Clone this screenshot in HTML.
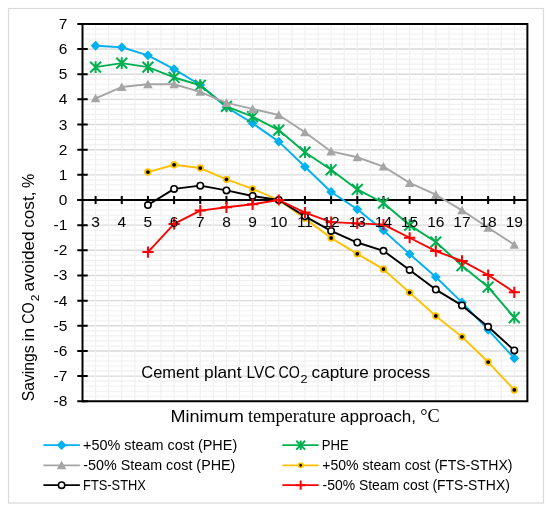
<!DOCTYPE html>
<html><head><meta charset="utf-8"><style>
html,body{margin:0;padding:0;background:#fff;}
body{width:550px;height:510px;overflow:hidden;}
svg{display:block;will-change:transform;}
text{font-family:"Liberation Sans",sans-serif;fill:#000;}
.tl text{font-size:15.5px;}
.tt{font-size:16.5px;}
.lg{font-size:14px;}
.mn{stroke:#F0F0F0;stroke-width:1.1;}
.mj{stroke:#D9D9D9;stroke-width:1.4;}
.vg{stroke:#EFEFEF;stroke-width:1.15;}
</style></head><body>
<svg width="550" height="510" viewBox="0 0 550 510">
<rect x="0" y="0" width="550" height="510" fill="#fff"/>
<rect x="8.5" y="8.5" width="535" height="494.5" fill="#fff" stroke="#D9D9D9" stroke-width="1.2"/>
<g><line x1="82.5" y1="396.25" x2="527.39" y2="396.25" class="mn"/><line x1="82.5" y1="391.22" x2="527.39" y2="391.22" class="mn"/><line x1="82.5" y1="386.18" x2="527.39" y2="386.18" class="mn"/><line x1="82.5" y1="381.15" x2="527.39" y2="381.15" class="mn"/><line x1="82.5" y1="371.09" x2="527.39" y2="371.09" class="mn"/><line x1="82.5" y1="366.06" x2="527.39" y2="366.06" class="mn"/><line x1="82.5" y1="361.02" x2="527.39" y2="361.02" class="mn"/><line x1="82.5" y1="355.99" x2="527.39" y2="355.99" class="mn"/><line x1="82.5" y1="345.93" x2="527.39" y2="345.93" class="mn"/><line x1="82.5" y1="340.9" x2="527.39" y2="340.9" class="mn"/><line x1="82.5" y1="335.86" x2="527.39" y2="335.86" class="mn"/><line x1="82.5" y1="330.83" x2="527.39" y2="330.83" class="mn"/><line x1="82.5" y1="320.77" x2="527.39" y2="320.77" class="mn"/><line x1="82.5" y1="315.74" x2="527.39" y2="315.74" class="mn"/><line x1="82.5" y1="310.7" x2="527.39" y2="310.7" class="mn"/><line x1="82.5" y1="305.67" x2="527.39" y2="305.67" class="mn"/><line x1="82.5" y1="295.61" x2="527.39" y2="295.61" class="mn"/><line x1="82.5" y1="290.58" x2="527.39" y2="290.58" class="mn"/><line x1="82.5" y1="285.54" x2="527.39" y2="285.54" class="mn"/><line x1="82.5" y1="280.51" x2="527.39" y2="280.51" class="mn"/><line x1="82.5" y1="270.45" x2="527.39" y2="270.45" class="mn"/><line x1="82.5" y1="265.42" x2="527.39" y2="265.42" class="mn"/><line x1="82.5" y1="260.38" x2="527.39" y2="260.38" class="mn"/><line x1="82.5" y1="255.35" x2="527.39" y2="255.35" class="mn"/><line x1="82.5" y1="245.29" x2="527.39" y2="245.29" class="mn"/><line x1="82.5" y1="240.26" x2="527.39" y2="240.26" class="mn"/><line x1="82.5" y1="235.22" x2="527.39" y2="235.22" class="mn"/><line x1="82.5" y1="230.19" x2="527.39" y2="230.19" class="mn"/><line x1="82.5" y1="220.13" x2="527.39" y2="220.13" class="mn"/><line x1="82.5" y1="215.1" x2="527.39" y2="215.1" class="mn"/><line x1="82.5" y1="210.06" x2="527.39" y2="210.06" class="mn"/><line x1="82.5" y1="205.03" x2="527.39" y2="205.03" class="mn"/><line x1="82.5" y1="194.97" x2="527.39" y2="194.97" class="mn"/><line x1="82.5" y1="189.94" x2="527.39" y2="189.94" class="mn"/><line x1="82.5" y1="184.9" x2="527.39" y2="184.9" class="mn"/><line x1="82.5" y1="179.87" x2="527.39" y2="179.87" class="mn"/><line x1="82.5" y1="169.81" x2="527.39" y2="169.81" class="mn"/><line x1="82.5" y1="164.78" x2="527.39" y2="164.78" class="mn"/><line x1="82.5" y1="159.74" x2="527.39" y2="159.74" class="mn"/><line x1="82.5" y1="154.71" x2="527.39" y2="154.71" class="mn"/><line x1="82.5" y1="144.65" x2="527.39" y2="144.65" class="mn"/><line x1="82.5" y1="139.62" x2="527.39" y2="139.62" class="mn"/><line x1="82.5" y1="134.58" x2="527.39" y2="134.58" class="mn"/><line x1="82.5" y1="129.55" x2="527.39" y2="129.55" class="mn"/><line x1="82.5" y1="119.49" x2="527.39" y2="119.49" class="mn"/><line x1="82.5" y1="114.46" x2="527.39" y2="114.46" class="mn"/><line x1="82.5" y1="109.42" x2="527.39" y2="109.42" class="mn"/><line x1="82.5" y1="104.39" x2="527.39" y2="104.39" class="mn"/><line x1="82.5" y1="94.33" x2="527.39" y2="94.33" class="mn"/><line x1="82.5" y1="89.3" x2="527.39" y2="89.3" class="mn"/><line x1="82.5" y1="84.26" x2="527.39" y2="84.26" class="mn"/><line x1="82.5" y1="79.23" x2="527.39" y2="79.23" class="mn"/><line x1="82.5" y1="69.17" x2="527.39" y2="69.17" class="mn"/><line x1="82.5" y1="64.14" x2="527.39" y2="64.14" class="mn"/><line x1="82.5" y1="59.1" x2="527.39" y2="59.1" class="mn"/><line x1="82.5" y1="54.07" x2="527.39" y2="54.07" class="mn"/><line x1="82.5" y1="44.01" x2="527.39" y2="44.01" class="mn"/><line x1="82.5" y1="38.98" x2="527.39" y2="38.98" class="mn"/><line x1="82.5" y1="33.94" x2="527.39" y2="33.94" class="mn"/><line x1="82.5" y1="28.91" x2="527.39" y2="28.91" class="mn"/><line x1="82.5" y1="376.12" x2="527.39" y2="376.12" class="mj"/><line x1="82.5" y1="350.96" x2="527.39" y2="350.96" class="mj"/><line x1="82.5" y1="325.8" x2="527.39" y2="325.8" class="mj"/><line x1="82.5" y1="300.64" x2="527.39" y2="300.64" class="mj"/><line x1="82.5" y1="275.48" x2="527.39" y2="275.48" class="mj"/><line x1="82.5" y1="250.32" x2="527.39" y2="250.32" class="mj"/><line x1="82.5" y1="225.16" x2="527.39" y2="225.16" class="mj"/><line x1="82.5" y1="200" x2="527.39" y2="200" class="mj"/><line x1="82.5" y1="174.84" x2="527.39" y2="174.84" class="mj"/><line x1="82.5" y1="149.68" x2="527.39" y2="149.68" class="mj"/><line x1="82.5" y1="124.52" x2="527.39" y2="124.52" class="mj"/><line x1="82.5" y1="99.36" x2="527.39" y2="99.36" class="mj"/><line x1="82.5" y1="74.2" x2="527.39" y2="74.2" class="mj"/><line x1="82.5" y1="49.04" x2="527.39" y2="49.04" class="mj"/><line x1="95.59" y1="23.88" x2="95.59" y2="401.28" class="vg"/><line x1="108.68" y1="23.88" x2="108.68" y2="401.28" class="vg"/><line x1="121.76" y1="23.88" x2="121.76" y2="401.28" class="vg"/><line x1="134.84" y1="23.88" x2="134.84" y2="401.28" class="vg"/><line x1="147.93" y1="23.88" x2="147.93" y2="401.28" class="vg"/><line x1="161.02" y1="23.88" x2="161.02" y2="401.28" class="vg"/><line x1="174.1" y1="23.88" x2="174.1" y2="401.28" class="vg"/><line x1="187.19" y1="23.88" x2="187.19" y2="401.28" class="vg"/><line x1="200.27" y1="23.88" x2="200.27" y2="401.28" class="vg"/><line x1="213.36" y1="23.88" x2="213.36" y2="401.28" class="vg"/><line x1="226.44" y1="23.88" x2="226.44" y2="401.28" class="vg"/><line x1="239.53" y1="23.88" x2="239.53" y2="401.28" class="vg"/><line x1="252.61" y1="23.88" x2="252.61" y2="401.28" class="vg"/><line x1="265.7" y1="23.88" x2="265.7" y2="401.28" class="vg"/><line x1="278.78" y1="23.88" x2="278.78" y2="401.28" class="vg"/><line x1="291.87" y1="23.88" x2="291.87" y2="401.28" class="vg"/><line x1="304.95" y1="23.88" x2="304.95" y2="401.28" class="vg"/><line x1="318.04" y1="23.88" x2="318.04" y2="401.28" class="vg"/><line x1="331.12" y1="23.88" x2="331.12" y2="401.28" class="vg"/><line x1="344.21" y1="23.88" x2="344.21" y2="401.28" class="vg"/><line x1="357.29" y1="23.88" x2="357.29" y2="401.28" class="vg"/><line x1="370.38" y1="23.88" x2="370.38" y2="401.28" class="vg"/><line x1="383.46" y1="23.88" x2="383.46" y2="401.28" class="vg"/><line x1="396.55" y1="23.88" x2="396.55" y2="401.28" class="vg"/><line x1="409.63" y1="23.88" x2="409.63" y2="401.28" class="vg"/><line x1="422.72" y1="23.88" x2="422.72" y2="401.28" class="vg"/><line x1="435.8" y1="23.88" x2="435.8" y2="401.28" class="vg"/><line x1="448.88" y1="23.88" x2="448.88" y2="401.28" class="vg"/><line x1="461.97" y1="23.88" x2="461.97" y2="401.28" class="vg"/><line x1="475.06" y1="23.88" x2="475.06" y2="401.28" class="vg"/><line x1="488.14" y1="23.88" x2="488.14" y2="401.28" class="vg"/><line x1="501.23" y1="23.88" x2="501.23" y2="401.28" class="vg"/><line x1="514.31" y1="23.88" x2="514.31" y2="401.28" class="vg"/></g>
<path d="M82.5 23.88H527.39V401.28H82.5" fill="none" stroke="#000" stroke-width="2"/>
<line x1="82.5" y1="22.88" x2="82.5" y2="402.28" stroke="#000" stroke-width="2"/>
<line x1="77.5" y1="200" x2="527.39" y2="200" stroke="#000" stroke-width="2.2"/>
<path d="M77.3 401.28H87.7M77.3 376.12H87.7M77.3 350.96H87.7M77.3 325.8H87.7M77.3 300.64H87.7M77.3 275.48H87.7M77.3 250.32H87.7M77.3 225.16H87.7M77.3 200H87.7M77.3 174.84H87.7M77.3 149.68H87.7M77.3 124.52H87.7M77.3 99.36H87.7M77.3 74.2H87.7M77.3 49.04H87.7M77.3 23.88H87.7M95.59 196.1V203.9M121.76 196.1V203.9M147.93 196.1V203.9M174.1 196.1V203.9M200.27 196.1V203.9M226.44 196.1V203.9M252.61 196.1V203.9M278.78 196.1V203.9M304.95 196.1V203.9M331.12 196.1V203.9M357.29 196.1V203.9M383.46 196.1V203.9M409.63 196.1V203.9M435.8 196.1V203.9M461.97 196.1V203.9M488.14 196.1V203.9M514.31 196.1V203.9" stroke="#000" stroke-width="2" fill="none"/>
<polyline points="95.59,45.77 121.76,47.28 147.93,55.33 174.1,69.17 200.27,85.02 226.44,107.16 252.61,123.26 278.78,141.63 304.95,166.79 331.12,191.95 357.29,209.31 383.46,230.44 409.63,254.09 435.8,276.99 461.97,302.4 488.14,329.83 514.31,358.26" fill="none" stroke="#00B0F0" stroke-width="1.9" stroke-linejoin="round"/>
<path d="M95.59 40.87L100.49 45.77L95.59 50.67L90.69 45.77Z" fill="#00B0F0"/><path d="M121.76 42.38L126.66 47.28L121.76 52.18L116.86 47.28Z" fill="#00B0F0"/><path d="M147.93 50.43L152.83 55.33L147.93 60.23L143.03 55.33Z" fill="#00B0F0"/><path d="M174.1 64.27L179 69.17L174.1 74.07L169.2 69.17Z" fill="#00B0F0"/><path d="M200.27 80.12L205.17 85.02L200.27 89.92L195.37 85.02Z" fill="#00B0F0"/><path d="M226.44 102.26L231.34 107.16L226.44 112.06L221.54 107.16Z" fill="#00B0F0"/><path d="M252.61 118.36L257.51 123.26L252.61 128.16L247.71 123.26Z" fill="#00B0F0"/><path d="M278.78 136.73L283.68 141.63L278.78 146.53L273.88 141.63Z" fill="#00B0F0"/><path d="M304.95 161.89L309.85 166.79L304.95 171.69L300.05 166.79Z" fill="#00B0F0"/><path d="M331.12 187.05L336.02 191.95L331.12 196.85L326.22 191.95Z" fill="#00B0F0"/><path d="M357.29 204.41L362.19 209.31L357.29 214.21L352.39 209.31Z" fill="#00B0F0"/><path d="M383.46 225.54L388.36 230.44L383.46 235.34L378.56 230.44Z" fill="#00B0F0"/><path d="M409.63 249.19L414.53 254.09L409.63 258.99L404.73 254.09Z" fill="#00B0F0"/><path d="M435.8 272.09L440.7 276.99L435.8 281.89L430.9 276.99Z" fill="#00B0F0"/><path d="M461.97 297.5L466.87 302.4L461.97 307.3L457.07 302.4Z" fill="#00B0F0"/><path d="M488.14 324.93L493.04 329.83L488.14 334.73L483.24 329.83Z" fill="#00B0F0"/><path d="M514.31 353.36L519.21 358.26L514.31 363.16L509.41 358.26Z" fill="#00B0F0"/>
<polyline points="95.59,67.16 121.76,63.13 147.93,67.16 174.1,77.47 200.27,85.27 226.44,106.4 252.61,116.72 278.78,130.06 304.95,152.2 331.12,169.81 357.29,189.43 383.46,203.02 409.63,225.16 435.8,242.02 461.97,265.67 488.14,287.05 514.31,317.5" fill="none" stroke="#00B050" stroke-width="1.9" stroke-linejoin="round"/>
<path d="M95.59 61.26V73.06M90.16 61.73L101.02 72.58M90.16 72.58L101.02 61.73" stroke="#00B050" stroke-width="2" fill="none"/><path d="M121.76 57.23V69.03M116.33 57.7L127.19 68.56M116.33 68.56L127.19 57.7" stroke="#00B050" stroke-width="2" fill="none"/><path d="M147.93 61.26V73.06M142.5 61.73L153.36 72.58M142.5 72.58L153.36 61.73" stroke="#00B050" stroke-width="2" fill="none"/><path d="M174.1 71.57V83.37M168.67 72.04L179.53 82.9M168.67 82.9L179.53 72.04" stroke="#00B050" stroke-width="2" fill="none"/><path d="M200.27 79.37V91.17M194.84 79.84L205.7 90.7M194.84 90.7L205.7 79.84" stroke="#00B050" stroke-width="2" fill="none"/><path d="M226.44 100.5V112.3M221.01 100.98L231.87 111.83M221.01 111.83L231.87 100.98" stroke="#00B050" stroke-width="2" fill="none"/><path d="M252.61 110.82V122.62M247.18 111.29L258.04 122.15M247.18 122.15L258.04 111.29" stroke="#00B050" stroke-width="2" fill="none"/><path d="M278.78 124.16V135.96M273.35 124.63L284.21 135.48M273.35 135.48L284.21 124.63" stroke="#00B050" stroke-width="2" fill="none"/><path d="M304.95 146.3V158.1M299.52 146.77L310.38 157.62M299.52 157.62L310.38 146.77" stroke="#00B050" stroke-width="2" fill="none"/><path d="M331.12 163.91V175.71M325.69 164.38L336.55 175.24M325.69 175.24L336.55 164.38" stroke="#00B050" stroke-width="2" fill="none"/><path d="M357.29 183.53V195.33M351.86 184L362.72 194.86M351.86 194.86L362.72 184" stroke="#00B050" stroke-width="2" fill="none"/><path d="M383.46 197.12V208.92M378.03 197.59L388.89 208.45M378.03 208.45L388.89 197.59" stroke="#00B050" stroke-width="2" fill="none"/><path d="M409.63 219.26V231.06M404.2 219.73L415.06 230.59M404.2 230.59L415.06 219.73" stroke="#00B050" stroke-width="2" fill="none"/><path d="M435.8 236.12V247.92M430.37 236.59L441.23 247.45M430.37 247.45L441.23 236.59" stroke="#00B050" stroke-width="2" fill="none"/><path d="M461.97 259.77V271.57M456.54 260.24L467.4 271.1M456.54 271.1L467.4 260.24" stroke="#00B050" stroke-width="2" fill="none"/><path d="M488.14 281.15V292.95M482.71 281.63L493.57 292.48M482.71 292.48L493.57 281.63" stroke="#00B050" stroke-width="2" fill="none"/><path d="M514.31 311.6V323.4M508.88 312.07L519.74 322.93M508.88 322.93L519.74 312.07" stroke="#00B050" stroke-width="2" fill="none"/>
<polyline points="95.59,98.35 121.76,87.03 147.93,84.26 174.1,84.26 200.27,91.81 226.44,102.88 252.61,108.92 278.78,114.96 304.95,132.32 331.12,151.44 357.29,157.23 383.46,166.54 409.63,182.89 435.8,194.72 461.97,210.32 488.14,227.68 514.31,244.78" fill="none" stroke="#A5A5A5" stroke-width="1.9" stroke-linejoin="round"/>
<path d="M95.59 93.75L100.39 102.35L90.79 102.35Z" fill="#A5A5A5"/><path d="M121.76 82.43L126.56 91.03L116.96 91.03Z" fill="#A5A5A5"/><path d="M147.93 79.66L152.73 88.26L143.13 88.26Z" fill="#A5A5A5"/><path d="M174.1 79.66L178.9 88.26L169.3 88.26Z" fill="#A5A5A5"/><path d="M200.27 87.21L205.07 95.81L195.47 95.81Z" fill="#A5A5A5"/><path d="M226.44 98.28L231.24 106.88L221.64 106.88Z" fill="#A5A5A5"/><path d="M252.61 104.32L257.41 112.92L247.81 112.92Z" fill="#A5A5A5"/><path d="M278.78 110.36L283.58 118.96L273.98 118.96Z" fill="#A5A5A5"/><path d="M304.95 127.72L309.75 136.32L300.15 136.32Z" fill="#A5A5A5"/><path d="M331.12 146.84L335.92 155.44L326.32 155.44Z" fill="#A5A5A5"/><path d="M357.29 152.63L362.09 161.23L352.49 161.23Z" fill="#A5A5A5"/><path d="M383.46 161.94L388.26 170.54L378.66 170.54Z" fill="#A5A5A5"/><path d="M409.63 178.29L414.43 186.89L404.83 186.89Z" fill="#A5A5A5"/><path d="M435.8 190.12L440.6 198.72L431 198.72Z" fill="#A5A5A5"/><path d="M461.97 205.72L466.77 214.32L457.17 214.32Z" fill="#A5A5A5"/><path d="M488.14 223.08L492.94 231.68L483.34 231.68Z" fill="#A5A5A5"/><path d="M514.31 240.18L519.11 248.78L509.51 248.78Z" fill="#A5A5A5"/>
<polyline points="147.93,172.07 174.1,164.78 200.27,168.05 226.44,179.37 252.61,188.93 278.78,200 304.95,218.37 331.12,237.99 357.29,253.84 383.46,269.19 409.63,292.59 435.8,315.99 461.97,336.87 488.14,362.03 514.31,389.96" fill="none" stroke="#FFC000" stroke-width="1.9" stroke-linejoin="round"/>
<circle cx="147.93" cy="172.07" r="2.8" fill="#000" stroke="#FFC000" stroke-width="1.8"/><circle cx="174.1" cy="164.78" r="2.8" fill="#000" stroke="#FFC000" stroke-width="1.8"/><circle cx="200.27" cy="168.05" r="2.8" fill="#000" stroke="#FFC000" stroke-width="1.8"/><circle cx="226.44" cy="179.37" r="2.8" fill="#000" stroke="#FFC000" stroke-width="1.8"/><circle cx="252.61" cy="188.93" r="2.8" fill="#000" stroke="#FFC000" stroke-width="1.8"/><circle cx="278.78" cy="200" r="2.8" fill="#000" stroke="#FFC000" stroke-width="1.8"/><circle cx="304.95" cy="218.37" r="2.8" fill="#000" stroke="#FFC000" stroke-width="1.8"/><circle cx="331.12" cy="237.99" r="2.8" fill="#000" stroke="#FFC000" stroke-width="1.8"/><circle cx="357.29" cy="253.84" r="2.8" fill="#000" stroke="#FFC000" stroke-width="1.8"/><circle cx="383.46" cy="269.19" r="2.8" fill="#000" stroke="#FFC000" stroke-width="1.8"/><circle cx="409.63" cy="292.59" r="2.8" fill="#000" stroke="#FFC000" stroke-width="1.8"/><circle cx="435.8" cy="315.99" r="2.8" fill="#000" stroke="#FFC000" stroke-width="1.8"/><circle cx="461.97" cy="336.87" r="2.8" fill="#000" stroke="#FFC000" stroke-width="1.8"/><circle cx="488.14" cy="362.03" r="2.8" fill="#000" stroke="#FFC000" stroke-width="1.8"/><circle cx="514.31" cy="389.96" r="2.8" fill="#000" stroke="#FFC000" stroke-width="1.8"/>
<polyline points="147.93,205.03 174.1,188.93 200.27,185.66 226.44,190.44 252.61,195.97 278.78,200 304.95,216.35 331.12,230.95 357.29,242.52 383.46,250.82 409.63,269.94 435.8,289.57 461.97,305.42 488.14,326.81 514.31,350.46" fill="none" stroke="#000000" stroke-width="1.9" stroke-linejoin="round"/>
<circle cx="147.93" cy="205.03" r="3.2" fill="#fff" stroke="#000" stroke-width="1.6"/><circle cx="174.1" cy="188.93" r="3.2" fill="#fff" stroke="#000" stroke-width="1.6"/><circle cx="200.27" cy="185.66" r="3.2" fill="#fff" stroke="#000" stroke-width="1.6"/><circle cx="226.44" cy="190.44" r="3.2" fill="#fff" stroke="#000" stroke-width="1.6"/><circle cx="252.61" cy="195.97" r="3.2" fill="#fff" stroke="#000" stroke-width="1.6"/><circle cx="278.78" cy="200" r="3.2" fill="#fff" stroke="#000" stroke-width="1.6"/><circle cx="304.95" cy="216.35" r="3.2" fill="#fff" stroke="#000" stroke-width="1.6"/><circle cx="331.12" cy="230.95" r="3.2" fill="#fff" stroke="#000" stroke-width="1.6"/><circle cx="357.29" cy="242.52" r="3.2" fill="#fff" stroke="#000" stroke-width="1.6"/><circle cx="383.46" cy="250.82" r="3.2" fill="#fff" stroke="#000" stroke-width="1.6"/><circle cx="409.63" cy="269.94" r="3.2" fill="#fff" stroke="#000" stroke-width="1.6"/><circle cx="435.8" cy="289.57" r="3.2" fill="#fff" stroke="#000" stroke-width="1.6"/><circle cx="461.97" cy="305.42" r="3.2" fill="#fff" stroke="#000" stroke-width="1.6"/><circle cx="488.14" cy="326.81" r="3.2" fill="#fff" stroke="#000" stroke-width="1.6"/><circle cx="514.31" cy="350.46" r="3.2" fill="#fff" stroke="#000" stroke-width="1.6"/>
<polyline points="147.93,252.08 174.1,223.9 200.27,210.57 226.44,207.3 252.61,204.28 278.78,200 304.95,212.58 331.12,222.14 357.29,223.4 383.46,224.66 409.63,237.74 435.8,251.07 461.97,260.89 488.14,274.98 514.31,292.34" fill="none" stroke="#FF0000" stroke-width="1.9" stroke-linejoin="round"/>
<path d="M142.33 252.08H153.53M147.93 246.48V257.68" stroke="#FF0000" stroke-width="2" fill="none"/><path d="M168.5 223.9H179.7M174.1 218.3V229.5" stroke="#FF0000" stroke-width="2" fill="none"/><path d="M194.67 210.57H205.87M200.27 204.97V216.17" stroke="#FF0000" stroke-width="2" fill="none"/><path d="M220.84 207.3H232.04M226.44 201.7V212.9" stroke="#FF0000" stroke-width="2" fill="none"/><path d="M247.01 204.28H258.21M252.61 198.68V209.88" stroke="#FF0000" stroke-width="2" fill="none"/><path d="M273.18 200H284.38M278.78 194.4V205.6" stroke="#FF0000" stroke-width="2" fill="none"/><path d="M299.35 212.58H310.55M304.95 206.98V218.18" stroke="#FF0000" stroke-width="2" fill="none"/><path d="M325.52 222.14H336.72M331.12 216.54V227.74" stroke="#FF0000" stroke-width="2" fill="none"/><path d="M351.69 223.4H362.89M357.29 217.8V229" stroke="#FF0000" stroke-width="2" fill="none"/><path d="M377.86 224.66H389.06M383.46 219.06V230.26" stroke="#FF0000" stroke-width="2" fill="none"/><path d="M404.03 237.74H415.23M409.63 232.14V243.34" stroke="#FF0000" stroke-width="2" fill="none"/><path d="M430.2 251.07H441.4M435.8 245.47V256.67" stroke="#FF0000" stroke-width="2" fill="none"/><path d="M456.37 260.89H467.57M461.97 255.29V266.49" stroke="#FF0000" stroke-width="2" fill="none"/><path d="M482.54 274.98H493.74M488.14 269.38V280.58" stroke="#FF0000" stroke-width="2" fill="none"/><path d="M508.71 292.34H519.91M514.31 286.74V297.94" stroke="#FF0000" stroke-width="2" fill="none"/>
<g class="tl"><text x="67.3" y="406.28" text-anchor="end">-8</text><text x="67.3" y="381.12" text-anchor="end">-7</text><text x="67.3" y="355.96" text-anchor="end">-6</text><text x="67.3" y="330.8" text-anchor="end">-5</text><text x="67.3" y="305.64" text-anchor="end">-4</text><text x="67.3" y="280.48" text-anchor="end">-3</text><text x="67.3" y="255.32" text-anchor="end">-2</text><text x="67.3" y="230.16" text-anchor="end">-1</text><text x="67.3" y="205" text-anchor="end">0</text><text x="67.3" y="179.84" text-anchor="end">1</text><text x="67.3" y="154.68" text-anchor="end">2</text><text x="67.3" y="129.52" text-anchor="end">3</text><text x="67.3" y="104.36" text-anchor="end">4</text><text x="67.3" y="79.2" text-anchor="end">5</text><text x="67.3" y="54.04" text-anchor="end">6</text><text x="67.3" y="28.88" text-anchor="end">7</text><text x="95.59" y="226.6" text-anchor="middle">3</text><text x="121.76" y="226.6" text-anchor="middle">4</text><text x="147.93" y="226.6" text-anchor="middle">5</text><text x="174.1" y="226.6" text-anchor="middle">6</text><text x="200.27" y="226.6" text-anchor="middle">7</text><text x="226.44" y="226.6" text-anchor="middle">8</text><text x="252.61" y="226.6" text-anchor="middle">9</text><text x="278.78" y="226.6" text-anchor="middle">10</text><text x="304.95" y="226.6" text-anchor="middle">11</text><text x="331.12" y="226.6" text-anchor="middle">12</text><text x="357.29" y="226.6" text-anchor="middle">13</text><text x="383.46" y="226.6" text-anchor="middle">14</text><text x="409.63" y="226.6" text-anchor="middle">15</text><text x="435.8" y="226.6" text-anchor="middle">16</text><text x="461.97" y="226.6" text-anchor="middle">17</text><text x="488.14" y="226.6" text-anchor="middle">18</text><text x="514.31" y="226.6" text-anchor="middle">19</text></g>
<text x="141.34" y="378.4" style="font-family:&quot;Liberation Sans&quot;;font-size:16.2px" textLength="57.65" lengthAdjust="spacingAndGlyphs">Cement</text>
<text x="204.03" y="378.4" style="font-family:&quot;Liberation Sans&quot;;font-size:16.2px" textLength="37.48" lengthAdjust="spacingAndGlyphs">plant</text>
<text x="246.61" y="378.4" style="font-family:&quot;Liberation Sans&quot;;font-size:16.2px" textLength="28.81" lengthAdjust="spacingAndGlyphs">LVC</text>
<text x="278.44" y="378.4" style="font-family:&quot;Liberation Sans&quot;;font-size:16.2px" textLength="21.35" lengthAdjust="spacingAndGlyphs">CO</text>
<text x="300.4" y="383" style="font-family:&quot;Liberation Sans&quot;;font-size:10.5px" textLength="7.01" lengthAdjust="spacingAndGlyphs">2</text>
<text x="311.61" y="378.4" style="font-family:&quot;Liberation Sans&quot;;font-size:16.2px" textLength="57.19" lengthAdjust="spacingAndGlyphs">capture</text>
<text x="373.09" y="378.4" style="font-family:&quot;Liberation Sans&quot;;font-size:16.2px" textLength="57.1" lengthAdjust="spacingAndGlyphs">process</text>
<text x="170.4" y="421.8" style="font-family:&quot;Liberation Sans&quot;;font-size:16.2px" textLength="73.31" lengthAdjust="spacingAndGlyphs">Minimum</text>
<text x="247.95" y="421.8" style="font-family:&quot;Liberation Serif&quot;;font-size:18.3px" textLength="87.6" lengthAdjust="spacingAndGlyphs">temperature</text>
<text x="340.11" y="421.8" style="font-family:&quot;Liberation Sans&quot;;font-size:16.2px" textLength="75.97" lengthAdjust="spacingAndGlyphs">approach,</text>
<text x="420.15" y="421.8" style="font-family:&quot;Liberation Serif&quot;;font-size:18.3px" textLength="19.46" lengthAdjust="spacingAndGlyphs">°C</text>
<text transform="translate(34 400.6) rotate(-90)" x="-0.73" y="0" style="font-family:&quot;Liberation Sans&quot;;font-size:16.2px" textLength="55.9" lengthAdjust="spacingAndGlyphs">Savings</text>
<text transform="translate(34 340.5) rotate(-90)" x="-1.09" y="0" style="font-family:&quot;Liberation Sans&quot;;font-size:16.2px" textLength="13.69" lengthAdjust="spacingAndGlyphs">in</text>
<text transform="translate(34 323.1) rotate(-90)" x="-0.66" y="0" style="font-family:&quot;Liberation Sans&quot;;font-size:16.2px" textLength="21.45" lengthAdjust="spacingAndGlyphs">CO</text>
<text transform="translate(38.8 300.6) rotate(-90)" x="-0.54" y="0" style="font-family:&quot;Liberation Sans&quot;;font-size:11px" textLength="6.62" lengthAdjust="spacingAndGlyphs">2</text>
<text transform="translate(34 290.8) rotate(-90)" x="-0.8" y="0" style="font-family:&quot;Liberation Sans&quot;;font-size:16.2px" textLength="60.23" lengthAdjust="spacingAndGlyphs">avoided</text>
<text transform="translate(34 227) rotate(-90)" x="-0.8" y="0" style="font-family:&quot;Liberation Sans&quot;;font-size:16.2px" textLength="36.32" lengthAdjust="spacingAndGlyphs">cost,</text>
<text transform="translate(34 187.6) rotate(-90)" x="-0.5" y="0" style="font-family:&quot;Liberation Sans&quot;;font-size:16.2px" textLength="14.35" lengthAdjust="spacingAndGlyphs">%</text>
<text x="83.04" y="450" style="font-family:&quot;Liberation Sans&quot;;font-size:14.2px" textLength="154.17" lengthAdjust="spacingAndGlyphs">+50% steam cost (PHE)</text>
<text x="321.84" y="450" style="font-family:&quot;Liberation Sans&quot;;font-size:14.2px" textLength="26.98" lengthAdjust="spacingAndGlyphs">PHE</text>
<text x="83.3" y="470" style="font-family:&quot;Liberation Sans&quot;;font-size:14.2px" textLength="152.06" lengthAdjust="spacingAndGlyphs">-50% Steam cost (PHE)</text>
<text x="322.26" y="470" style="font-family:&quot;Liberation Sans&quot;;font-size:14.2px" textLength="190.3" lengthAdjust="spacingAndGlyphs">+50% steam cost (FTS-STHX)</text>
<text x="83.07" y="489.9" style="font-family:&quot;Liberation Sans&quot;;font-size:14.2px" textLength="62.76" lengthAdjust="spacingAndGlyphs">FTS-STHX</text>
<text x="322.51" y="489.9" style="font-family:&quot;Liberation Sans&quot;;font-size:14.2px" textLength="187.36" lengthAdjust="spacingAndGlyphs">-50% Steam cost (FTS-STHX)</text>
<line x1="43.4" y1="445.2" x2="79.9" y2="445.2" stroke="#00B0F0" stroke-width="1.8"/>
<path d="M61.6 440.3L66.5 445.2L61.6 450.1L56.7 445.2Z" fill="#00B0F0"/>
<line x1="282.3" y1="445.2" x2="318.6" y2="445.2" stroke="#00B050" stroke-width="1.8"/>
<path d="M300.7 440.4V450M296.28 440.78L305.12 449.62M296.28 449.62L305.12 440.78" stroke="#00B050" stroke-width="2" fill="none"/>
<line x1="43.4" y1="465.3" x2="79.9" y2="465.3" stroke="#A5A5A5" stroke-width="1.8"/>
<path d="M61.6 460.7L66.4 469.3L56.8 469.3Z" fill="#A5A5A5"/>
<line x1="282.3" y1="465.3" x2="318.6" y2="465.3" stroke="#FFC000" stroke-width="1.8"/>
<circle cx="300.7" cy="465.3" r="2.2" fill="#000" stroke="#FFC000" stroke-width="1.7"/>
<line x1="43.4" y1="485.2" x2="79.9" y2="485.2" stroke="#000000" stroke-width="1.8"/>
<circle cx="61.6" cy="485.2" r="3.2" fill="#fff" stroke="#000" stroke-width="1.6"/>
<line x1="282.3" y1="485.2" x2="318.6" y2="485.2" stroke="#FF0000" stroke-width="1.8"/>
<path d="M296.1 485.2H305.3M300.7 480.6V489.8" stroke="#FF0000" stroke-width="2" fill="none"/>
</svg>
</body></html>
